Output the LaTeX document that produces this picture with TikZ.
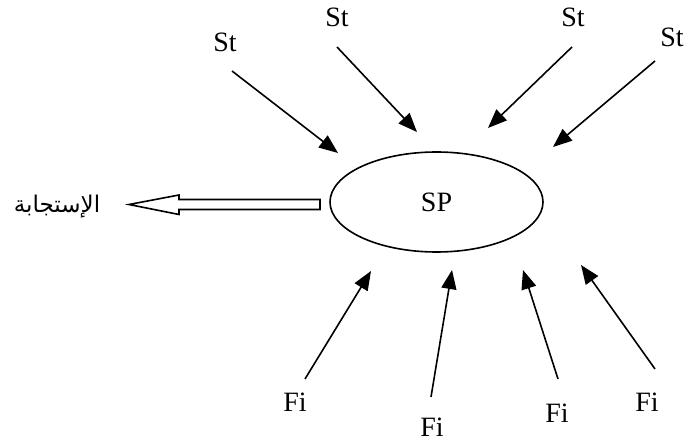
\documentclass[tikz,border=0pt]{standalone}
\usepackage{fontspec}
\setmainfont{Liberation Serif}
\newfontfamily\arabicfont[Script=Arabic]{DejaVu Sans}
\TeXXeTstate=1
\usetikzlibrary{arrows.meta,shapes.geometric}
\begin{document}
\begin{tikzpicture}[x=1pt,y=-1pt,
  lbl/.style={font=\fontsize{28}{32}\selectfont, inner sep=0pt},
  arr/.style={line width=1.6pt, -{Triangle[length=19pt,width=15pt]}},
  hollow/.style={line width=1.6pt, line join=miter, fill=white}]
\useasboundingbox (0,0) rectangle (693,443);
\node[draw, ellipse, line width=1.6pt, minimum width=213pt, minimum height=100pt, inner sep=0pt, font=\fontsize{28}{32}\selectfont] (sp) at (436.5,202) {SP};
% top labels
\node[lbl] (st1) at (225,42) {St};
\node[lbl] (st2) at (337,17) {St};
\node[lbl] (st3) at (573,17) {St};
\node[lbl] (st4) at (672,37) {St};
% bottom labels
\node[lbl] (fi1) at (295,402) {Fi};
\node[lbl] (fi2) at (432,427) {Fi};
\node[lbl] (fi3) at (557,413) {Fi};
\node[lbl] (fi4) at (647,402) {Fi};
% arrow coordinates
\coordinate (s1a) at (232,71);  \coordinate (s1b) at (338,153);
\coordinate (s2a) at (337,47);  \coordinate (s2b) at (417,132);
\coordinate (s3a) at (572,47);  \coordinate (s3b) at (488,128);
\coordinate (s4a) at (655,61);  \coordinate (s4b) at (553,147);
\coordinate (f1a) at (305,379); \coordinate (f1b) at (371,271);
\coordinate (f2a) at (431,397); \coordinate (f2b) at (452,270);
\coordinate (f3a) at (558,379); \coordinate (f3b) at (523,270);
\coordinate (f4a) at (655,369); \coordinate (f4b) at (581,265);
\foreach \a in {s1,s2,s3,s4,f1,f2,f3,f4}{\draw[arr] (\a a) -- (\a b);}
% hollow response arrow
\coordinate (rt) at (320,204.5);
\coordinate (tip) at (129,204.5);
\draw[hollow] (rt) ++(0,-5) -- (179,199.5) -- (179,195) -- (tip) -- (179,214.5) -- (179,209.5) -- (320,209.5) -- cycle;
\node[inner sep=0pt, font=\arabicfont\fontsize{23}{26}\selectfont] (resp) at (57,207) {\beginR الإستجابة\endR};
\end{tikzpicture}
\end{document}
